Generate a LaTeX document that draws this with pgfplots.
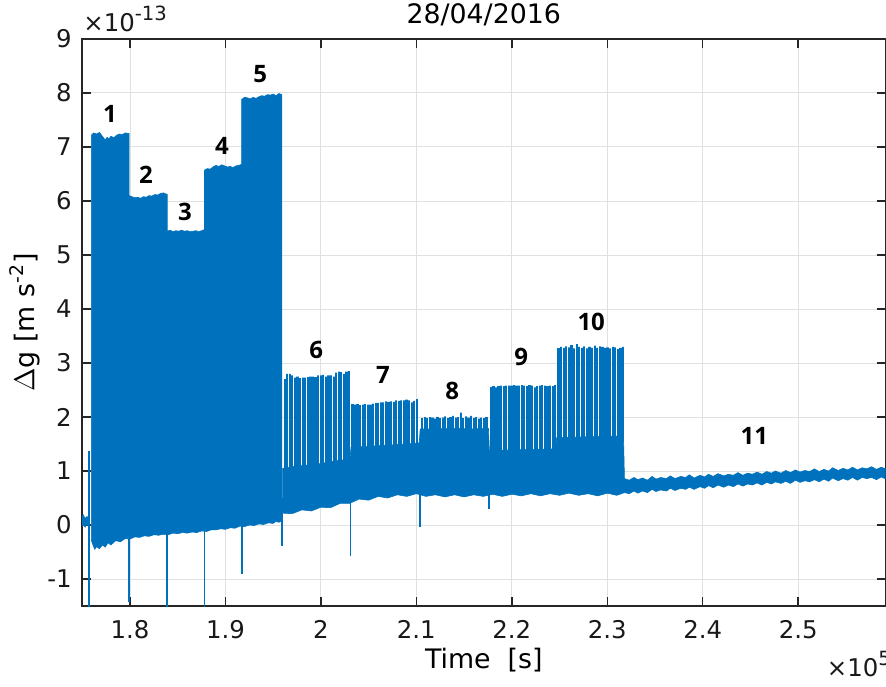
\documentclass[border=0pt]{standalone}
\usepackage{fontspec}
\setmainfont{DejaVu Sans}
\newfontfamily\labfont{Open Sans}
\usepackage{pgfplots}
\pgfplotsset{compat=1.18}
\definecolor{mblue}{RGB}{0,114,189}
\definecolor{axgray}{RGB}{38,38,38}
\newcommand{\tickfont}{\fontsize{12.2bp}{14bp}\selectfont}
\newcommand{\labelfont}{\fontsize{13.4bp}{15bp}\selectfont}
\newcommand{\numfont}{\labfont\bfseries\fontsize{12bp}{13bp}\selectfont}
\begin{document}
\begin{tikzpicture}
\begin{axis}[
  name=ax,
  scale only axis,
  width=401.75bp, height=283.5bp,
  xmin=1.7497, xmax=2.5915,
  ymin=-1.5, ymax=9,
  xtick={1.8,1.9,2.0,2.1,2.2,2.3,2.4,2.5},
  xticklabels={1.8,1.9,2,2.1,2.2,2.3,2.4,2.5},
  ytick={-1,0,1,2,3,4,5,6,7,8,9},
  yticklabels={-1,0,1,2,3,4,5,6,7,8,9},
  scaled ticks=false,
  grid=major,
  major grid style={line width=0.5bp, color=black!12},
  axis line style={line width=0.7bp, color=axgray},
  every tick/.style={line width=0.7bp, color=axgray},
  major tick length=4.5bp,
  tick align=inside,
  xticklabel style={font=\tickfont, inner sep=0pt, yshift=-7bp, text=black!90},
  yticklabel style={font=\tickfont, inner sep=0pt, xshift=-5bp, text=black!90},
  xlabel={Time\ \ [s]},
  xlabel style={font=\labelfont, at={(axis description cs:0.5,-0.0952)}, anchor=center, inner sep=0pt},
  ylabel={$\Delta$g [m s\textsuperscript{-2}]},
  ylabel style={font=\labelfont, at={(axis description cs:-0.0709,0.5)}, anchor=center, inner sep=0pt},
  title={28/04/2016},
  every axis title shift=0pt,
  title style={font=\labelfont, at={(axis description cs:0.5,1.0423)}, anchor=center, inner sep=0pt},
  clip mode=individual,
]
% initial blob
\addplot[fill=mblue, draw=mblue, line width=0.3bp] coordinates {
(1.7495,0.15)(1.7510,0.19)(1.7530,0.12)(1.7550,0.16)(1.7570,0.10)
(1.7570,-0.02)(1.7550,0.01)(1.7530,-0.04)(1.7510,0.00)(1.7495,-0.02)} -- cycle;
\addplot[mblue, line width=0.9bp] coordinates {(1.7572,-1.7)(1.7572,1.37)};
% segments 1-5
\addplot[fill=mblue, draw=mblue, line width=0.3bp] coordinates {
(1.7595,-0.28)(1.7595,7.22)(1.7620,7.26)(1.7650,7.24)(1.7680,7.27)(1.7710,7.20)(1.7740,7.13)(1.7760,7.18)(1.7780,7.15)(1.7800,7.20)(1.7830,7.17)(1.7860,7.22)(1.7890,7.24)(1.7920,7.23)(1.7950,7.26)(1.7990,7.25)
(1.7990,6.10)(1.8020,6.08)(1.8050,6.06)(1.8080,6.07)(1.8110,6.05)(1.8140,6.08)(1.8170,6.07)(1.8200,6.10)(1.8230,6.09)(1.8260,6.12)(1.8290,6.11)(1.8320,6.14)(1.8350,6.15)(1.8390,6.12)
(1.8390,5.44)(1.8420,5.46)(1.8450,5.43)(1.8480,5.45)(1.8510,5.44)(1.8540,5.46)(1.8570,5.44)(1.8600,5.45)(1.8630,5.43)(1.8660,5.44)(1.8690,5.45)(1.8720,5.43)(1.8750,5.45)(1.8780,5.47)
(1.8780,6.57)(1.8810,6.60)(1.8840,6.59)(1.8870,6.63)(1.8900,6.66)(1.8930,6.64)(1.8960,6.67)(1.8990,6.65)(1.9020,6.63)(1.9050,6.64)(1.9080,6.62)(1.9110,6.65)(1.9140,6.66)(1.9170,6.68)
(1.9170,7.88)(1.9200,7.92)(1.9230,7.91)(1.9260,7.89)(1.9290,7.92)(1.9320,7.90)(1.9350,7.93)(1.9380,7.95)(1.9410,7.94)(1.9440,7.97)(1.9470,7.96)(1.9500,7.98)(1.9530,7.95)(1.9560,7.99)(1.9590,7.97)
(1.9590,0.08)(1.9560,0.05)(1.9530,0.07)(1.9500,0.03)(1.9450,0.04)(1.9400,0.01)(1.9350,0.02)(1.9300,-0.01)(1.9250,0.00)(1.9200,-0.03)(1.9150,-0.02)(1.9100,-0.06)(1.9050,-0.05)(1.9000,-0.08)(1.8950,-0.07)(1.8900,-0.09)(1.8850,-0.09)(1.8800,-0.12)(1.8750,-0.11)(1.8700,-0.14)(1.8650,-0.13)(1.8600,-0.15)(1.8550,-0.14)(1.8500,-0.16)(1.8450,-0.15)(1.8400,-0.18)(1.8350,-0.17)(1.8300,-0.19)(1.8250,-0.18)(1.8200,-0.21)(1.8150,-0.20)(1.8100,-0.23)(1.8050,-0.22)(1.8000,-0.26)(1.7950,-0.25)(1.7900,-0.31)(1.7850,-0.29)(1.7800,-0.37)(1.7770,-0.33)(1.7740,-0.41)(1.7710,-0.37)(1.7680,-0.44)(1.7650,-0.40)(1.7630,-0.45)(1.7610,-0.36)} -- cycle;
% segments 6-11 dense part
\addplot[fill=mblue, draw=mblue, line width=0.3bp] coordinates {
(1.9600,0.22)(1.9600,1.05)(1.9700,1.08)(1.9800,1.10)(1.9900,1.12)(2.0000,1.14)(2.0100,1.17)(2.0200,1.20)(2.0305,1.22)
(2.0315,1.44)(2.0500,1.46)(2.0700,1.48)(2.0900,1.50)(2.1030,1.52)
(2.1040,1.78)(2.1200,1.78)(2.1400,1.79)(2.1600,1.78)(2.1755,1.79)
(2.1765,1.38)(2.2000,1.39)(2.2200,1.40)(2.2460,1.41)
(2.2470,1.62)(2.2700,1.63)(2.2900,1.64)(2.3170,1.65)
(2.3180,0.86)(2.3230,0.83)(2.3280,0.88)(2.3320,0.84)(2.3370,0.87)(2.3420,0.83)(2.3470,0.90)(2.3510,0.85)(2.3560,0.88)(2.3620,0.86)(2.3660,0.91)(2.3710,0.86)(2.3770,0.90)(2.3820,0.88)(2.3860,0.93)(2.3910,0.87)(2.3970,0.92)(2.4020,0.89)(2.4060,0.94)(2.4110,0.90)(2.4160,0.95)(2.4220,0.91)(2.4270,0.94)(2.4320,0.92)(2.4370,0.97)(2.4420,0.92)(2.4470,0.96)(2.4520,0.94)(2.4570,0.98)(2.4620,0.94)(2.4670,0.99)(2.4720,0.96)(2.4760,1.00)(2.4820,0.96)(2.4870,1.01)(2.4920,0.97)(2.4970,1.02)(2.5020,0.98)(2.5070,1.01)(2.5120,0.99)(2.5170,1.04)(2.5220,0.99)(2.5270,1.03)(2.5320,1.00)(2.5360,1.06)(2.5420,1.01)(2.5470,1.05)(2.5520,1.02)(2.5570,1.07)(2.5620,1.02)(2.5670,1.06)(2.5720,1.04)(2.5770,1.08)(2.5820,1.03)(2.5870,1.07)(2.5920,1.04)(2.5950,1.06)
(2.5950,0.87)(2.5920,0.85)(2.5870,0.89)(2.5820,0.84)(2.5770,0.88)(2.5720,0.86)(2.5670,0.88)(2.5620,0.83)(2.5570,0.88)(2.5520,0.83)(2.5470,0.86)(2.5420,0.82)(2.5360,0.87)(2.5320,0.81)(2.5270,0.85)(2.5220,0.80)(2.5170,0.84)(2.5120,0.80)(2.5070,0.82)(2.5020,0.79)(2.4970,0.83)(2.4920,0.77)(2.4870,0.81)(2.4820,0.77)(2.4760,0.80)(2.4720,0.76)(2.4670,0.79)(2.4620,0.74)(2.4570,0.78)(2.4520,0.74)(2.4470,0.76)(2.4420,0.72)(2.4370,0.76)(2.4320,0.71)(2.4270,0.74)(2.4220,0.70)(2.4160,0.74)(2.4110,0.69)(2.4060,0.73)(2.4020,0.68)(2.3970,0.71)(2.3910,0.66)(2.3860,0.70)(2.3820,0.66)(2.3770,0.68)(2.3710,0.64)(2.3660,0.68)(2.3620,0.63)(2.3560,0.65)(2.3510,0.62)(2.3470,0.66)(2.3420,0.60)(2.3370,0.63)(2.3320,0.59)(2.3280,0.63)(2.3230,0.58)(2.3180,0.60)
(2.3100,0.55)(2.3000,0.59)(2.2900,0.54)(2.2800,0.58)(2.2700,0.55)(2.2600,0.59)(2.2500,0.55)(2.2400,0.58)(2.2300,0.54)(2.2200,0.58)(2.2100,0.54)(2.2000,0.57)(2.1900,0.53)(2.1800,0.57)(2.1700,0.53)(2.1600,0.56)(2.1500,0.52)(2.1400,0.56)(2.1300,0.52)(2.1200,0.56)(2.1100,0.53)(2.1000,0.58)(2.0900,0.53)(2.0800,0.56)(2.0700,0.50)(2.0600,0.53)(2.0500,0.46)(2.0400,0.48)(2.0300,0.40)(2.0200,0.40)(2.0100,0.32)(2.0000,0.33)(1.9900,0.26)(1.9800,0.28)(1.9700,0.21)} -- cycle;
% spikes segment 6
\addplot[mblue, line width=1.1bp, const plot mark left] coordinates {
(1.9620,2.70)(1.9620,0.95)(1.9647,2.80)(1.9647,0.95)(1.9674,2.80)(1.9674,0.95)(1.9701,2.77)(1.9701,0.95)(1.9728,2.73)(1.9728,0.95)(1.9755,2.75)(1.9755,0.95)(1.9782,2.72)(1.9782,0.95)(1.9809,2.73)(1.9809,0.95)(1.9836,2.73)(1.9836,0.95)(1.9863,2.74)(1.9863,0.95)(1.9890,2.75)(1.9890,0.95)(1.9917,2.75)(1.9917,0.95)(1.9944,2.74)(1.9944,0.95)(1.9971,2.77)(1.9971,0.95)(1.9998,2.77)(1.9998,0.95)(2.0025,2.78)(2.0025,0.95)(2.0052,2.75)(2.0052,0.95)(2.0079,2.77)(2.0079,0.95)(2.0106,2.77)(2.0106,0.95)(2.0133,2.75)(2.0133,0.95)(2.0160,2.82)(2.0160,0.95)(2.0187,2.84)(2.0187,0.95)(2.0214,2.83)(2.0214,0.95)(2.0241,2.80)(2.0241,0.95)(2.0268,2.84)(2.0268,0.95)(2.0295,2.85)(2.0295,0.95)};
% spikes segment 7
\addplot[mblue, line width=1.1bp, const plot mark left] coordinates {
(2.0330,2.25)(2.0330,1.35)(2.0357,2.23)(2.0357,1.35)(2.0384,2.24)(2.0384,1.35)(2.0411,2.22)(2.0411,1.35)(2.0438,2.23)(2.0438,1.35)(2.0465,2.24)(2.0465,1.35)(2.0492,2.23)(2.0492,1.35)(2.0519,2.23)(2.0519,1.35)(2.0546,2.25)(2.0546,1.35)(2.0573,2.26)(2.0573,1.35)(2.0600,2.26)(2.0600,1.35)(2.0627,2.27)(2.0627,1.35)(2.0654,2.27)(2.0654,1.35)(2.0681,2.29)(2.0681,1.35)(2.0708,2.28)(2.0708,1.35)(2.0735,2.29)(2.0735,1.35)(2.0762,2.28)(2.0762,1.35)(2.0789,2.31)(2.0789,1.35)(2.0816,2.30)(2.0816,1.35)(2.0843,2.31)(2.0843,1.35)(2.0870,2.31)(2.0870,1.35)(2.0897,2.32)(2.0897,1.35)(2.0924,2.31)(2.0924,1.35)(2.0951,2.27)(2.0951,1.35)(2.0978,2.30)(2.0978,1.35)(2.1005,2.33)(2.1005,1.35)};
% spikes segment 8
\addplot[mblue, line width=1.1bp, const plot mark left] coordinates {
(2.1060,1.99)(2.1060,1.70)(2.1087,2.00)(2.1087,1.70)(2.1114,1.98)(2.1114,1.70)(2.1141,2.00)(2.1141,1.70)(2.1168,1.99)(2.1168,1.70)(2.1195,1.97)(2.1195,1.70)(2.1222,2.00)(2.1222,1.70)(2.1249,1.98)(2.1249,1.70)(2.1276,1.99)(2.1276,1.70)(2.1303,2.01)(2.1303,1.70)(2.1330,1.98)(2.1330,1.70)(2.1357,2.00)(2.1357,1.70)(2.1384,2.02)(2.1384,1.70)(2.1411,1.99)(2.1411,1.70)(2.1438,2.00)(2.1438,1.70)(2.1465,2.08)(2.1465,1.70)(2.1492,1.98)(2.1492,1.70)(2.1519,2.01)(2.1519,1.70)(2.1546,1.99)(2.1546,1.70)(2.1573,2.02)(2.1573,1.70)(2.1600,1.98)(2.1600,1.70)(2.1627,2.00)(2.1627,1.70)(2.1654,1.97)(2.1654,1.70)(2.1681,1.99)(2.1681,1.70)(2.1708,1.98)(2.1708,1.70)(2.1735,2.00)(2.1735,1.70)};
% spikes segment 9
\addplot[mblue, line width=1.1bp, const plot mark left] coordinates {
(2.1780,2.56)(2.1780,1.30)(2.1807,2.57)(2.1807,1.30)(2.1834,2.55)(2.1834,1.30)(2.1861,2.57)(2.1861,1.30)(2.1888,2.58)(2.1888,1.30)(2.1915,2.57)(2.1915,1.30)(2.1942,2.58)(2.1942,1.30)(2.1969,2.58)(2.1969,1.30)(2.1996,2.58)(2.1996,1.30)(2.2023,2.59)(2.2023,1.30)(2.2050,2.58)(2.2050,1.30)(2.2077,2.58)(2.2077,1.30)(2.2104,2.59)(2.2104,1.30)(2.2131,2.58)(2.2131,1.30)(2.2158,2.57)(2.2158,1.30)(2.2185,2.59)(2.2185,1.30)(2.2212,2.58)(2.2212,1.30)(2.2239,2.55)(2.2239,1.30)(2.2266,2.57)(2.2266,1.30)(2.2293,2.58)(2.2293,1.30)(2.2320,2.59)(2.2320,1.30)(2.2347,2.58)(2.2347,1.30)(2.2374,2.57)(2.2374,1.30)(2.2401,2.58)(2.2401,1.30)(2.2428,2.57)(2.2428,1.30)(2.2455,2.59)(2.2455,1.30)};
% spikes segment 10
\addplot[mblue, line width=1.1bp, const plot mark left] coordinates {
(2.2490,3.27)(2.2490,1.55)(2.2517,3.30)(2.2517,1.55)(2.2544,3.28)(2.2544,1.55)(2.2571,3.31)(2.2571,1.55)(2.2598,3.29)(2.2598,1.55)(2.2625,3.33)(2.2625,1.55)(2.2652,3.27)(2.2652,1.55)(2.2679,3.35)(2.2679,1.55)(2.2706,3.30)(2.2706,1.55)(2.2733,3.28)(2.2733,1.55)(2.2760,3.31)(2.2760,1.55)(2.2787,3.27)(2.2787,1.55)(2.2814,3.30)(2.2814,1.55)(2.2841,3.28)(2.2841,1.55)(2.2868,3.32)(2.2868,1.55)(2.2895,3.28)(2.2895,1.55)(2.2922,3.31)(2.2922,1.55)(2.2949,3.30)(2.2949,1.55)(2.2976,3.28)(2.2976,1.55)(2.3003,3.29)(2.3003,1.55)(2.3030,3.27)(2.3030,1.55)(2.3057,3.30)(2.3057,1.55)(2.3084,3.29)(2.3084,1.55)(2.3111,3.26)(2.3111,1.55)(2.3138,3.28)(2.3138,1.55)(2.3165,3.30)(2.3165,1.55)};
% downward spikes
\addplot[mblue, line width=0.9bp] coordinates {(1.7990,0.5)(1.7990,-1.42)};
\addplot[mblue, line width=0.9bp] coordinates {(1.8390,0.5)(1.8390,-1.7)};
\addplot[mblue, line width=0.9bp] coordinates {(1.8780,0.5)(1.8780,-1.7)};
\addplot[mblue, line width=0.9bp] coordinates {(1.9175,0.5)(1.9175,-0.91)};
\addplot[mblue, line width=0.9bp] coordinates {(1.9595,0.5)(1.9595,-0.39)};
\addplot[mblue, line width=0.9bp] coordinates {(2.0310,1.0)(2.0310,-0.57)};
\addplot[mblue, line width=0.9bp] coordinates {(2.1035,1.0)(2.1035,-0.03)};
\addplot[mblue, line width=0.9bp] coordinates {(2.1760,1.0)(2.1760,0.30)};
% labels
\node[font=\numfont] at (axis cs:1.779,7.61) {1};
\node[font=\numfont] at (axis cs:1.8168,6.48) {2};
\node[font=\numfont] at (axis cs:1.8577,5.80) {3};
\node[font=\numfont] at (axis cs:1.8964,7.02) {4};
\node[font=\numfont] at (axis cs:1.9363,8.35) {5};
\node[font=\numfont] at (axis cs:1.995,3.24) {6};
\node[font=\numfont] at (axis cs:2.065,2.78) {7};
\node[font=\numfont] at (axis cs:2.1375,2.48) {8};
\node[font=\numfont] at (axis cs:2.2098,3.11) {9};
\node[font=\numfont] at (axis cs:2.2832,3.76) {10};
\node[font=\numfont] at (axis cs:2.454,1.65) {11};
\node[anchor=base west, inner sep=0pt, font=\tickfont, text=black!90] at ([xshift=0.5bp,yshift=3.7bp]axis description cs:0,1) {×10\raisebox{5.5bp}{\fontsize{9.8bp}{11bp}\selectfont -13}};
\node[anchor=base west, inner sep=0pt, font=\tickfont, text=black!90] at ([yshift=-35.3bp]axis description cs:0.9266,0) {×10\raisebox{5.5bp}{\fontsize{9.8bp}{11bp}\selectfont 5}};
\end{axis}
\pgfresetboundingbox
\path ([shift={(-41bp,-40bp)}]ax.south west) rectangle ([shift={(0.25bp,19.5bp)}]ax.north east);
\end{tikzpicture}
\end{document}
